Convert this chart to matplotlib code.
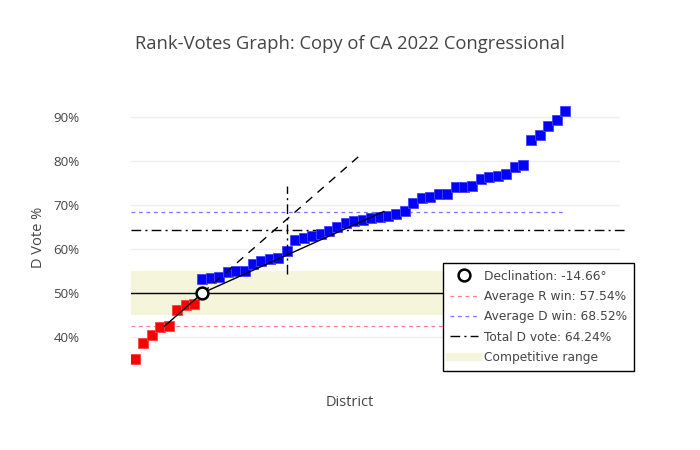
import numpy as np
import matplotlib.pyplot as plt
from matplotlib.lines import Line2D

# D vote share (%) per district, sorted; R-won districts first
r_votes = [35.0, 38.6, 40.5, 42.2, 42.5, 46.2, 47.2, 47.5]
d_votes = [53.1, 53.3, 53.6, 54.8, 54.9, 55.0, 56.5, 57.3, 57.7, 57.9,
           59.5, 62.0, 62.5, 62.9, 63.3, 64.1, 65.1, 65.9, 66.3, 66.7,
           67.0, 67.3, 67.4, 67.9, 68.7, 70.4, 71.7, 71.9, 72.4, 72.5,
           74.0, 74.2, 74.4, 75.8, 76.3, 76.6, 77.0, 78.7, 79.2, 84.7,
           85.8, 88.0, 89.3, 91.3]
total_d_vote = 64.24
declination = -14.66
competitive = (45, 55)
yticks = [40, 50, 60, 70, 80, 90]

# extra guide segment drawn in the original (district index, y range)
guide_x = 18
guide_y = (54.3, 74.3)
ext_end_x = 26.5

n_r = len(r_votes)
n = n_r + len(d_votes)
x_r = np.arange(n_r)
x_d = np.arange(n_r, n)
avg_r = np.mean(r_votes)
avg_d = np.mean(d_votes)

fig = plt.figure(figsize=(7, 4.5), dpi=100)
ax = fig.add_axes([131 / 700, 80 / 450, 489 / 700, 270 / 450])
xmin, xmax = -0.47, 57.5
ax.set_xlim(xmin, xmax)
ax.set_ylim(32.5, 93.86)

for s in ax.spines.values():
    s.set_visible(False)
ax.set_xticks([])
ax.set_yticks(yticks)
ax.set_yticklabels([f"{v}%" for v in yticks], fontfamily="Open Sans", fontsize=9.6, color="#444444")
ax.tick_params(axis="y", length=0, pad=37)
ax.grid(axis="y", color="#eeeeee", linewidth=1)
ax.set_axisbelow(True)

# competitive band and reference lines
ax.axhspan(competitive[0], competitive[1], color="#f5f5dc", zorder=1, lw=0)
ax.plot([xmin, xmax], [50, 50], color="black", lw=1, zorder=2)
ax.plot([xmin, n - 1], [avg_r, avg_r], color="#ff8080", lw=0.9, ls=(0, (3, 3)), zorder=2)
ax.plot([xmin, n - 1], [avg_d, avg_d], color="#7777ff", lw=0.9, ls=(0, (3, 3)), zorder=2)
ax.plot([xmin, xmax + 0.6], [total_d_vote, total_d_vote], color="black", lw=1,
        ls=(0, (7, 3, 1.5, 3)), zorder=2, clip_on=False)

# declination lines
cx, cy = n_r, 50
rx, ry = np.mean(x_r), avg_r
dx, dy = np.mean(x_d), avg_d
ax.plot([rx, cx, dx], [ry, cy, dy], color="black", lw=1, zorder=4)
slope = (cy - ry) / (cx - rx)
ax.plot([cx, ext_end_x], [cy, cy + slope * (ext_end_x - cx)], color="black", lw=1,
        ls=(0, (6, 5)), zorder=4)
ax.plot([guide_x, guide_x], guide_y, color="black", lw=1, ls=(0, (7, 3, 1.5, 3)), zorder=4)

ax.plot(x_r, r_votes, ls="none", marker="s", ms=7.8, color="#ff0000", mec="#ff4444", mew=0.6, zorder=3)
ax.plot(x_d, d_votes, ls="none", marker="s", ms=7.8, color="#0000ff", mec="#4444ff", mew=0.6, zorder=3)
ax.plot([cx], [cy], ls="none", marker="o", ms=8.5, mfc="white", mec="black", mew=1.8, zorder=5)

fig.text(350 / 700, 1 - 44 / 450, "Rank-Votes Graph: Copy of CA 2022 Congressional",
         ha="center", va="center", fontfamily="Open Sans", fontsize=13.2, color="#444444")
fig.text(350 / 700, 1 - 403 / 450, "District", ha="center", va="center",
         fontfamily="Open Sans", fontsize=10.5, color="#444444")
fig.text(38 / 700, 1 - 237 / 450, "D Vote %", ha="center", va="center", rotation=90,
         fontfamily="Open Sans", fontsize=10.5, color="#444444")

handles = [
    Line2D([], [], ls="none", marker="o", ms=8.5, mfc="white", mec="black", mew=1.8),
    Line2D([], [], color="#ff8080", lw=0.9, ls=(0, (3, 3))),
    Line2D([], [], color="#7777ff", lw=0.9, ls=(0, (3, 3))),
    Line2D([], [], color="black", lw=1, ls=(0, (7, 3, 1.5, 3))),
    Line2D([], [], color="#f5f5dc", lw=6),
]
labels = [
    f"Declination: {declination:.2f}°",
    f"Average R win: {100 - avg_r:.2f}%",
    f"Average D win: {avg_d:.2f}%",
    f"Total D vote: {total_d_vote:.2f}%",
    "Competitive range",
]
leg = fig.legend(handles, labels, loc="upper left", bbox_to_anchor=(443 / 700, 1 - 263 / 450),
                 borderaxespad=0, fancybox=False, framealpha=1, edgecolor="black",
                 prop={"family": "DejaVu Sans", "size": 8.8}, handlelength=2.3,
                 handletextpad=0.5, labelspacing=0.6, borderpad=0.55)
leg.get_frame().set_linewidth(1)
for t in leg.get_texts():
    t.set_color("#444444")

fig.savefig("out.png", dpi=100)
